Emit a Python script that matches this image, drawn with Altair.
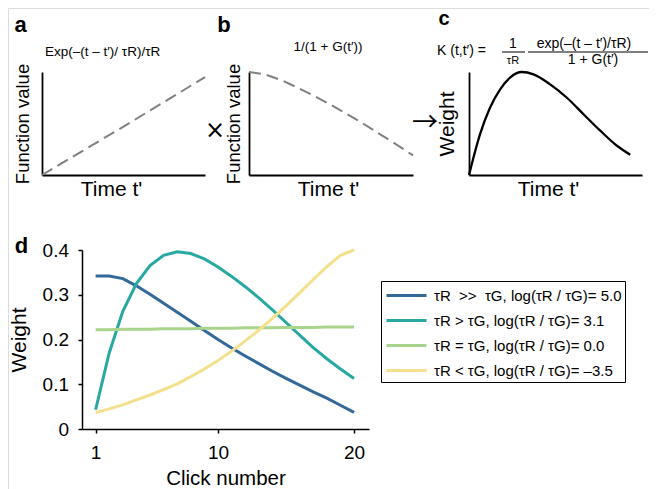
import altair as alt
import pandas as pd

FONT = "Liberation Sans"
W, H = 641, 481  # whole drawing area (view) placed at the page margin

# ---- panel a : Exp(-(t-t')/tauR)/tauR ----
a_t = [0.0, 0.25, 0.5, 0.75, 1.0]
a_v = [0.0, 0.235, 0.47, 0.71, 0.95]

# ---- panel b : 1/(1+G(t')) ----
b_t = [0.0, 0.1, 0.2, 0.3, 0.4, 0.5, 0.6, 0.7, 0.8, 0.9, 1.0]
b_v = [1.0, 0.975, 0.92, 0.845, 0.765, 0.68, 0.59, 0.495, 0.395, 0.295, 0.19]

# ---- panel c : kernel K(t,t') ----
c_t = [0.0, 0.064, 0.122, 0.18, 0.237, 0.305, 0.373, 0.469, 0.566, 0.662, 0.759, 0.855, 0.932]
c_v = [0.0, 0.397, 0.655, 0.832, 0.945, 1.0, 0.977, 0.88, 0.75, 0.59, 0.43, 0.284, 0.197]

# ---- panel d : weights per click ----
clicks = list(range(1, 21))
w_blue = [0.342, 0.342, 0.336, 0.320, 0.301, 0.281, 0.261, 0.241, 0.220, 0.200,
          0.181, 0.163, 0.146, 0.129, 0.113, 0.098, 0.083, 0.069, 0.053, 0.037]
w_teal = [0.043, 0.170, 0.263, 0.325, 0.365, 0.388, 0.396, 0.392, 0.380, 0.362,
          0.341, 0.318, 0.293, 0.266, 0.238, 0.210, 0.182, 0.157, 0.134, 0.113]
w_green = [0.222, 0.222, 0.223, 0.223, 0.223, 0.224, 0.224, 0.224, 0.225, 0.225,
           0.225, 0.226, 0.226, 0.226, 0.227, 0.227, 0.227, 0.228, 0.228, 0.228]
w_yellow = [0.037, 0.045, 0.054, 0.065, 0.076, 0.088, 0.101, 0.117, 0.134, 0.153,
            0.174, 0.197, 0.221, 0.247, 0.275, 0.304, 0.334, 0.363, 0.388, 0.414]
NB = "\u00a0"
series_labels = [
    f"τR {NB}>> {NB}τG, log(τR / τG)= 5.0" + NB * 9,
    "τR > τG, log(τR / τG)= 3.1",
    "τR = τG, log(τR / τG)= 0.0",
    "τR < τG, log(τR / τG)= –3.5",
]
series_colors = ["#33699a", "#27a9a1", "#a8d58b", "#f4e08c"]
y_ticks = [0, 0.1, 0.2, 0.3, 0.4]
x_ticks = [1, 10, 20]

one = pd.DataFrame({"k": [0]})


def annot(text, x, y, size=14, weight="normal", align="center", baseline="alphabetic",
          font=FONT):
    return alt.Chart(one).mark_text(
        text=text, fontSize=size, fontWeight=weight, align=align,
        baseline=baseline, font=font, color="black"
    ).encode(x=alt.value(x), y=alt.value(y))


TOP_Y = [167, 64]          # bottom, top of the three small panels (view px)
TOP_XOFF = TOP_Y[0] - H    # offset to bring the x axis up to the panel bottom


def top_encodings(xrange, ytitle, ysize, ypad, titlex):
    x = alt.X("t:Q", scale=alt.Scale(domain=[0, 1], range=xrange, nice=False, zero=False),
              axis=alt.Axis(orient="bottom", offset=TOP_XOFF, title="Time t'",
                            labels=False, ticks=False, grid=False,
                            domainColor="black", domainWidth=1.8, titleFontSize=21,
                            titlePadding=3, titleX=titlex, titleFont=FONT,
                            titleColor="black", titleFontWeight="normal"))
    y = alt.Y("v:Q", scale=alt.Scale(domain=[0, 1], range=TOP_Y, nice=False, zero=False),
              axis=alt.Axis(orient="left", offset=-xrange[0], title=ytitle,
                            labels=False, ticks=False, grid=False,
                            domainColor="black", domainWidth=1.8, titleFontSize=ysize,
                            titlePadding=ypad, minExtent=0, titleFont=FONT,
                            titleColor="black", titleFontWeight="normal"))
    return x, y


# panel a
xa, ya = top_encodings([34, 197], "Function value", 18.5, 10, 103)
line_a = alt.Chart(pd.DataFrame({"t": a_t, "v": a_v})).mark_line(
    color="#808080", strokeDash=[12, 6], strokeWidth=2).encode(x=xa, y=ya)

# panel b
xb, yb = top_encodings([241, 405], "Function value", 18.5, 6, 320)
line_b = alt.Chart(pd.DataFrame({"t": b_t, "v": b_v})).mark_line(
    color="#808080", strokeDash=[12, 6], strokeWidth=2).encode(x=xb, y=yb)

# panel c
xc, yc = top_encodings([461, 634], "Weight", 21, 12, 540)
line_c = alt.Chart(pd.DataFrame({"t": c_t, "v": c_v})).mark_line(
    color="black", strokeWidth=2.3, interpolate="monotone").encode(x=xc, y=yc)

bar1 = alt.Chart(one).mark_rule(color="black", strokeWidth=1).encode(
    x=alt.value(494), x2=alt.value(517), y=alt.value(44))
bar2 = alt.Chart(one).mark_rule(color="black", strokeWidth=1).encode(
    x=alt.value(520), x2=alt.value(640), y=alt.value(44))

# panel d
rows = []
for lab, vals in zip(series_labels, [w_blue, w_teal, w_green, w_yellow]):
    for c, v in zip(clicks, vals):
        rows.append({"click": c, "weight": v, "series": lab})
df_d = pd.DataFrame(rows)

lines_d = alt.Chart(df_d).mark_line(strokeWidth=3).encode(
    x=alt.X("click:Q", scale=alt.Scale(domain=[0, 21.1], range=[74, 361], nice=False, zero=False),
            axis=alt.Axis(orient="bottom", offset=421 - H, values=x_ticks,
                          title="Click number", tickSize=4,
                          labelPadding=10, titlePadding=6, labelFontSize=19,
                          titleFontSize=20.5, domainColor="black", tickColor="black",
                          domainWidth=1.5, tickWidth=1.5, grid=False, labelFlush=False,
                          labelFont=FONT, titleFont=FONT, labelColor="black",
                          titleColor="black", titleFontWeight="normal")),
    y=alt.Y("weight:Q", scale=alt.Scale(domain=[0, 0.4], range=[421, 242], nice=False,
                                        zero=False, clamp=True),
            axis=alt.Axis(orient="left", offset=-74, values=y_ticks, title="Weight",
                          tickSize=4, labelPadding=9.5, titlePadding=13,
                          labelFontSize=19, titleFontSize=21,
                          labelExpr="datum.value == 0 ? '0' : format(datum.value, '.1f')",
                          domainColor="black", tickColor="black", domainWidth=1.5,
                          tickWidth=1.5, grid=False, labelFlush=False, minExtent=0,
                          labelFont=FONT, titleFont=FONT, labelColor="black",
                          titleColor="black", titleFontWeight="normal")),
    color=alt.Color("series:N", sort=series_labels,
                    scale=alt.Scale(domain=series_labels, range=series_colors),
                    legend=alt.Legend(title=None, orient="none", legendX=373, legendY=273,
                                      symbolType="M-2,0H2", symbolSize=400,
                                      symbolOffset=11, symbolStrokeWidth=3,
                                      labelFontSize=15, labelFont=FONT, labelColor="black",
                                      strokeColor="black", fillColor="white",
                                      padding=3, rowPadding=5, labelOffset=16,
                                      labelLimit=400, cornerRadius=0)),
)

chart = alt.layer(
    line_a, line_b, line_c, lines_d, bar1, bar2,
    annot("a", 12.5, 24, size=22, weight="bold"),
    annot("Exp(–(t – t′)/ τR)/τR", 37, 48, size=13.5, align="left"),
    annot("×", 207, 123, size=24, baseline="middle", font="DejaVu Sans"),
    annot("b", 216, 24, size=22, weight="bold"),
    annot("1/(1 + G(t′))", 320, 43, size=13.5),
    annot("→", 417, 115, size=26, baseline="middle", font="Noto Sans CJK SC"),
    annot("c", 436, 16.5, size=20, weight="bold"),
    annot("K (t,t′) =", 429, 47, size=14, align="left"),
    annot("1", 505, 40, size=14),
    annot("τR", 505, 56, size=11),
    annot("exp(–(t – t′)/τR)", 576, 40, size=14),
    annot("1 + G(t′)", 585, 56, size=14),
    annot("d", 13.5, 245, size=22, weight="bold"),
).resolve_scale(x="independent", y="independent").properties(
    width=W, height=H, autosize=alt.AutoSizeParams(type="none"), padding=0
).configure_view(stroke=None).configure(font=FONT)

chart.save("out.html", embed_options={"renderer": "svg", "actions": False})
